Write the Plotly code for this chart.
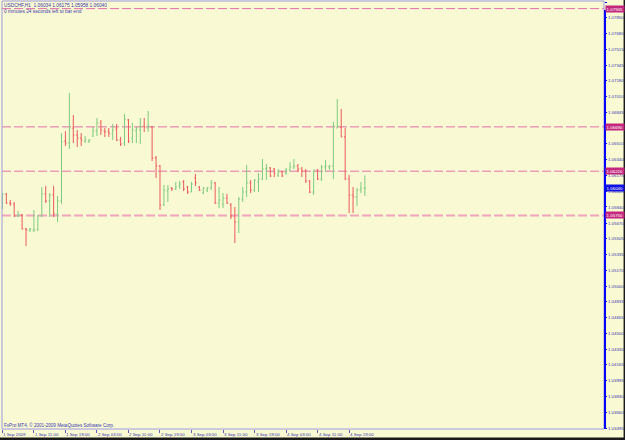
import plotly.graph_objects as go

# ---- data (USDCHF H1, 1 Sep 2009 03:00 .. 4 Sep 2009 23:00) ----
opens = [1.05840,1.05978,1.05882,1.05872,1.05744,1.05755,1.05607,1.05596,1.05590,1.05600,
         1.05744,1.05978,1.05904,1.05967,1.05766,1.05904,1.06540,1.06519,1.06678,1.06604,
         1.06572,1.06540,1.06540,1.06593,1.06646,1.06731,1.06646,1.06646,1.06614,1.06668,
         1.06551,1.06519,1.06763,1.06572,1.06646,1.06657,1.06699,1.06678,1.06689,1.06360,
         1.06275,1.05861,1.06010,1.06042,1.06031,1.06063,1.06105,1.06052,1.05999,1.06148,
         1.06052,1.05988,1.06020,1.06042,1.06095,1.05882,1.05872,1.05935,1.05861,1.05744,
         1.05681,1.05925,1.05999,1.06095,1.06020,1.06105,1.06137,1.06243,1.06254,1.06243,
         1.06179,1.06211,1.06201,1.06233,1.06264,1.06275,1.06243,1.06222,1.06116,1.05999,
         1.06233,1.06137,1.06264,1.06264,1.06275,1.06678,1.06689,1.06583,1.06137,1.05967,
         1.05946,1.06020,1.06034]
highs = [1.05988,1.05988,1.05914,1.05893,1.05798,1.05766,1.05617,1.05617,1.05808,1.05755,
         1.06052,1.06063,1.05988,1.06063,1.05957,1.06625,1.06646,1.07050,1.06816,1.06657,
         1.06625,1.06593,1.06561,1.06689,1.06784,1.06763,1.06678,1.06678,1.06721,1.06721,
         1.06583,1.06827,1.06774,1.06731,1.06689,1.06784,1.06784,1.06859,1.06699,1.06381,
         1.06286,1.06073,1.06073,1.06052,1.06105,1.06116,1.06126,1.06063,1.06105,1.06190,
         1.06063,1.06052,1.06052,1.06126,1.06105,1.06052,1.05988,1.05978,1.05882,1.05840,
         1.05946,1.06052,1.06286,1.06126,1.06137,1.06201,1.06349,1.06296,1.06264,1.06254,
         1.06243,1.06222,1.06254,1.06317,1.06349,1.06296,1.06264,1.06243,1.06126,1.06233,
         1.06243,1.06286,1.06339,1.06286,1.06742,1.06986,1.06880,1.06678,1.06179,1.06052,
         1.06042,1.06105,1.06175]
lows = [1.05819,1.05872,1.05851,1.05734,1.05734,1.05600,1.05426,1.05575,1.05575,1.05585,
        1.05734,1.05882,1.05734,1.05734,1.05681,1.05872,1.06487,1.06455,1.06519,1.06477,
        1.06487,1.06519,1.06519,1.06583,1.06593,1.06604,1.06583,1.06583,1.06551,1.06540,
        1.06487,1.06487,1.06519,1.06519,1.06519,1.06508,1.06636,1.06636,1.06328,1.06148,
        1.05808,1.05851,1.05893,1.06010,1.06020,1.06031,1.06010,1.05978,1.05999,1.06063,
        1.06010,1.05978,1.05999,1.06020,1.05872,1.05829,1.05829,1.05872,1.05713,1.05458,
        1.05564,1.05893,1.05946,1.05988,1.05999,1.05999,1.06126,1.06126,1.06158,1.06158,
        1.06158,1.06158,1.06179,1.06211,1.06243,1.06211,1.06158,1.06095,1.05988,1.05967,
        1.06126,1.06116,1.06211,1.06233,1.06137,1.06678,1.06583,1.06126,1.05776,1.05776,
        1.05851,1.05988,1.05958]
closes = [1.05978,1.05882,1.05872,1.05744,1.05755,1.05607,1.05596,1.05607,1.05600,1.05744,
          1.05978,1.05904,1.05967,1.05766,1.05904,1.06530,1.06519,1.06678,1.06604,1.06572,
          1.06551,1.06561,1.06551,1.06646,1.06731,1.06657,1.06636,1.06625,1.06657,1.06551,
          1.06508,1.06774,1.06540,1.06657,1.06678,1.06689,1.06689,1.06699,1.06360,1.06275,
          1.05861,1.06020,1.06031,1.06031,1.06052,1.06084,1.06031,1.05999,1.06084,1.06095,
          1.06020,1.06042,1.06042,1.06095,1.05882,1.05914,1.05935,1.05882,1.05744,1.05681,
          1.05925,1.05999,1.06095,1.06020,1.06126,1.06137,1.06243,1.06254,1.06169,1.06201,
          1.06211,1.06169,1.06233,1.06264,1.06275,1.06243,1.06222,1.06116,1.05999,1.06233,
          1.06137,1.06264,1.06275,1.06275,1.06699,1.06699,1.06583,1.06137,1.05967,1.05946,
          1.06020,1.06042,1.06040]

x_tick_bars = [0, 8, 16, 24, 32, 40, 48, 56, 64, 72, 80, 88]
x_tick_text = ["1 Sep 2009", "1 Sep 11:00", "1 Sep 19:00", "2 Sep 03:00", "2 Sep 11:00",
               "2 Sep 19:00", "3 Sep 03:00", "3 Sep 11:00", "3 Sep 19:00", "4 Sep 03:00",
               "4 Sep 11:00", "4 Sep 19:00"]

y_tick_text = ["1.08015", "1.07850", "1.07680", "1.07515", "1.07345", "1.07180", "1.07010",
               "1.06845", "1.06675", "1.06510", "1.06340", "1.06175", "1.06005", "1.05840",
               "1.05670", "1.05505", "1.05335", "1.05170", "1.05000", "1.04835", "1.04665",
               "1.04500", "1.04330", "1.04165", "1.03995", "1.03830", "1.03660", "1.03495"]
y_tick_vals = [float(t) for t in y_tick_text]

level_lines = [1.07945, 1.06690, 1.06220, 1.05750]
level_colors = ["#E46FA8", "#E46FA8", "#E46FA8", "#F0A6BC"]
level_widths = [1, 1, 1, 2]
current_price = 1.06040

title_line1 = "USDCHF,H1  1.06034 1.06175 1.05958 1.06040"
title_line2 = "0 minutes 24 seconds left to bar end"
copyright_text = "FxPro MT4, \u00a9 2001-2009 MetaQuotes Software Corp."

# ---- figure ----
bars = list(range(len(opens)))
BG = "#F9F9D3"
TXT = "#3A3AB0"
FONT = "Liberation Sans"

fig = go.Figure()
fig.add_trace(go.Ohlc(
    x=bars, open=opens, high=highs, low=lows, close=closes,
    increasing=dict(line=dict(color="#7FCB7F", width=1)),
    decreasing=dict(line=dict(color="#EC5A5A", width=1)),
    tickwidth=0.3, hoverinfo="skip", showlegend=False,
))

shapes = []
for v, c, w in zip(level_lines, level_colors, level_widths):
    shapes.append(dict(type="line", xref="paper", x0=0, x1=1, yref="y", y0=v, y1=v,
                       line=dict(color=c, width=w, dash="9px,3px"), layer="below"))
# frame
shapes.append(dict(type="rect", xref="paper", yref="paper", x0=0, x1=1, y0=0, y1=1,
                   line=dict(color="#9A9AE0", width=1), layer="above"))
# blue price-scale line
shapes.append(dict(type="line", xref="paper", yref="paper", x0=1.0017, x1=1.0017, y0=0, y1=0.979,
                   line=dict(color="#0000FF", width=2), layer="above"))
# dark window edges
shapes.append(dict(type="rect", xref="paper", yref="paper", x0=-0.01, x1=1.04, y0=-0.04, y1=-0.0199,
                   line=dict(width=0), fillcolor="#1A1A1A", layer="above"))
shapes.append(dict(type="rect", xref="paper", yref="paper", x0=1.0325, x1=1.04, y0=-0.04, y1=1.01,
                   line=dict(width=0), fillcolor="#1A1A1A", layer="above"))

annotations = [
    dict(text=title_line1, xref="paper", yref="paper", x=0, y=1, xanchor="left", yanchor="top",
         xshift=0, yshift=0, showarrow=False, font=dict(family=FONT, size=4.8, color=TXT)),
    dict(text=title_line2, xref="paper", yref="paper", x=0, y=1, xanchor="left", yanchor="top",
         xshift=0, yshift=-5.5, showarrow=False, font=dict(family=FONT, size=4.8, color=TXT)),
    dict(text=copyright_text, xref="paper", yref="paper", x=0, y=0, xanchor="left", yanchor="bottom",
         xshift=0, yshift=-0.5, showarrow=False, font=dict(family=FONT, size=4.6, color=TXT)),
]
# time labels, left-aligned at their bar like MT4
for b, t in zip(x_tick_bars, x_tick_text):
    annotations.append(dict(text=t, xref="x", yref="paper", x=b, y=0, xanchor="left",
                            yanchor="top", xshift=-1, yshift=-1, showarrow=False,
                            font=dict(family=FONT, size=4.4, color=TXT)))
for v in level_lines:
    annotations.append(dict(text=f"{v:.5f}", xref="paper", yref="y", x=1, y=v, xanchor="left",
                            yanchor="middle", xshift=1, showarrow=False, bgcolor="#C4287E",
                            borderpad=0.6, font=dict(family=FONT, size=4.4, color="white")))
annotations.append(dict(text=f"{current_price:.5f}", xref="paper", yref="y", x=1, y=current_price,
                        xanchor="left", yanchor="middle", xshift=1, showarrow=False,
                        bgcolor="#1010E0", borderpad=0.6,
                        font=dict(family=FONT, size=4.4, color="white")))

px_per_bar = 3.94
plot_w = 602
x0 = -0.1
fig.update_layout(
    width=625, height=440,
    margin=dict(l=2, r=21, t=1, b=11, pad=0),
    paper_bgcolor=BG, plot_bgcolor=BG,
    shapes=shapes, annotations=annotations,
    xaxis=dict(range=[x0, x0 + plot_w / px_per_bar], showgrid=False, zeroline=False,
               automargin=False,
               rangeslider=dict(visible=False), tickmode="array", tickvals=x_tick_bars,
               ticks="outside", ticklen=3, tickcolor="#6060C0", showticklabels=False,
               showline=False, fixedrange=True),
    yaxis=dict(range=[1.034845, 1.080256], side="right", showgrid=False, zeroline=False,
               automargin=False,
               tickmode="array", tickvals=y_tick_vals, ticktext=y_tick_text,
               ticks="outside", ticklen=2, tickcolor="#0000FF", showline=False,
               tickfont=dict(family=FONT, size=4.4, color=TXT), fixedrange=True),
)

fig.write_html("out.html")
